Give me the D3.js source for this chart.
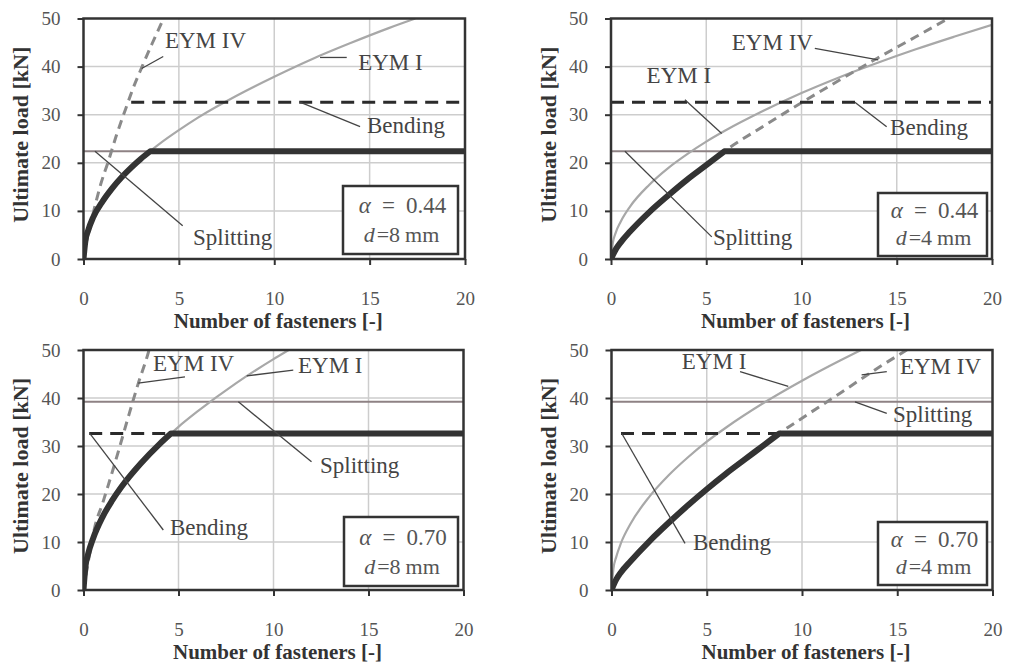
<!DOCTYPE html>
<html>
<head>
<meta charset="utf-8">
<script src="https://cdn.jsdelivr.net/npm/d3@7"></script>
<style>
  body { margin: 0; background: #fff; }
  svg { display: block; }
  text { font-family: "Liberation Serif", "Times New Roman", serif; }
</style>
</head>
<body>
<svg id="chart"></svg>
<script>
const width = 1012;
const height = 665;

const xTicks = [0, 5, 10, 15, 20];
const yTicks = [0, 10, 20, 30, 40, 50];
const xTitle = 'Number of fasteners [-]';
const yTitle = 'Ultimate load [kN]';

// alpha = 0.44, d = 8 mm
const eymI_44_8 = [[0,0],[0.1,3.8],[0.25,6],[0.5,8.6],[1,12],[1.5,14.7],[2,17],[3,20.8],[4,24],[5,26.8],[6,29.4],[8,33.9],[10,37.9],[12,41.6],[14,44.9],[16,48],[17.4,50]];
const eymIV_44_8 = [[0,0],[0.2,4.5],[0.5,9.4],[0.9,15.5],[1.3,20.3],[1.7,25.4],[2.2,31.1],[2.6,35.5],[3.05,39.8],[3.6,44.8],[4.2,50]];
const gov_44_8 = [[0,0],[0.1,3.8],[0.25,6],[0.5,8.6],[1,12],[1.5,14.7],[2,17],[2.5,19],[3,20.8],[3.5,22.4],[20,22.4]];
const split_44_8 = [[0,22.4],[20,22.4]];
const bend_44_8 = [[2.5,32.6],[20,32.6]];

// alpha = 0.44, d = 4 mm
const eymI_44_4 = [[0,0],[0.1,3.4],[0.25,5.5],[0.5,7.7],[1,10.9],[2,15.4],[3,18.9],[4,21.8],[5,24.4],[6,26.7],[8,30.8],[10,34.5],[12,37.8],[14,40.8],[16,43.6],[18,46.2],[20,48.7]];
const eymIV_44_4 = [[0,0],[0.25,2],[0.5,3.4],[1,5.7],[2,9.7],[3,13.2],[4,16.5],[5,19.5],[6,22.55],[8,27.6],[10,32.5],[12,37.2],[14,41.8],[16,46.2],[17.7,50]];
const gov_44_4 = [[0,0],[0.25,2],[0.5,3.4],[1,5.7],[2,9.7],[3,13.2],[4,16.5],[5,19.5],[5.95,22.4],[20,22.4]];
const split_44_4 = [[0,22.4],[20,22.4]];
const bend_44_4 = [[0,32.6],[20,32.6]];

// alpha = 0.70, d = 8 mm
const eymI_70_8 = [[0,0],[0.1,4.8],[0.25,7.6],[0.5,10.7],[1,15.2],[1.5,18.6],[2,21.5],[3,26.3],[4,30.4],[5,34],[6,37.2],[8,43],[10,48.1],[10.8,50]];
const eymIV_70_8 = [[0,0],[0.3,7],[0.6,13.2],[1,18],[1.3,21.8],[1.83,28.8],[2.36,36.1],[2.88,43],[3.4,49.3],[3.45,50]];
const gov_70_8 = [[0,0],[0.1,4.8],[0.25,7.6],[0.5,10.7],[1,15.2],[1.5,18.6],[2,21.5],[3,26.3],[4,30.4],[4.6,32.6],[20,32.6]];
const split_70_8 = [[0,39.2],[20,39.2]];
const bend_70_8 = [[0.3,32.6],[20,32.6]];

// alpha = 0.70, d = 4 mm
const eymI_70_4 = [[0,0],[0.1,4.4],[0.25,6.9],[0.5,9.8],[1,13.8],[2,19.5],[3,23.9],[4,27.6],[5,30.9],[6,33.8],[8,39],[10,43.6],[12,47.8],[13.1,50]];
const eymIV_70_4 = [[0,0],[0.25,2.2],[0.5,3.7],[1,6],[2,10.2],[3,14],[4,17.6],[5,21],[6,24.2],[7,27.2],[8,30.2],[8.8,32.6],[10,35.8],[12,41],[14,46.3],[15.5,50]];
const gov_70_4 = [[0,0],[0.25,2.2],[0.5,3.7],[1,6],[2,10.2],[3,14],[4,17.6],[5,21],[6,24.2],[7,27.2],[8,30.2],[8.8,32.6],[20,32.6]];
const split_70_4 = [[0,39.2],[20,39.2]];
const bend_70_4 = [[0.5,32.6],[20,32.6]];

const panels = [
  { frame: [83.5, 18.5, 465, 259], alpha: '0.44', d: '8', box: [115, 68, 7, 5],
    eymI: eymI_44_8, eymIV: eymIV_44_8, gov: gov_44_8, split: split_44_8, bend: bend_44_8,
    notes: [
      { t: 'EYM IV', at: [4.27, 43.9], leader: [[3.05, 39.6], [4.18, 42.1]] },
      { t: 'EYM I', at: [14.4, 39.3], leader: [[12.4, 41.9], [13.8, 41.9]] },
      { t: 'Bending', at: [14.86, 26.2], leader: [[11.35, 32.6], [14.5, 27.5]] },
      { t: 'Splitting', at: [5.74, 2.9], leader: [[0.6, 22.4], [5.2, 6.9]] }
    ] },
  { frame: [611, 18.5, 992, 259], alpha: '0.44', d: '4', box: [109, 63, 5, 3],
    eymI: eymI_44_4, eymIV: eymIV_44_4, gov: gov_44_4, split: split_44_4, bend: bend_44_4,
    notes: [
      { t: 'EYM IV', at: [6.34, 43.5], leader: [[10.7, 43.8], [14.03, 41.4]] },
      { t: 'EYM I', at: [1.87, 36.65], leader: [[3.88, 33.1], [5.81, 26.1]] },
      { t: 'Bending', at: [14.65, 25.8], leader: [[12.8, 32.6], [14.47, 27.5]] },
      { t: 'Splitting', at: [5.35, 2.9], leader: [[0.73, 22.4], [5.29, 4.6]] }
    ] },
  { frame: [83.5, 350, 463.5, 590], alpha: '0.70', d: '8', box: [114, 69, 5.5, 4],
    eymI: eymI_70_8, eymIV: eymIV_70_8, gov: gov_70_8, split: split_70_8, bend: bend_70_8,
    notes: [
      { t: 'EYM IV', at: [3.66, 45.7], leader: [[2.88, 43.1], [5.34, 44.4]] },
      { t: 'EYM I', at: [11.29, 45.3], leader: [[8.59, 44.6], [11.04, 45.8]] },
      { t: 'Splitting', at: [12.45, 24.4], leader: [[8.15, 39.2], [12.0, 26.7]] },
      { t: 'Bending', at: [4.55, 11.5], leader: [[0.34, 32.6], [4.2, 12.5]] }
    ] },
  { frame: [611.5, 350, 992.5, 590], alpha: '0.70', d: '4', box: [109, 63, 5.5, 5],
    eymI: eymI_70_4, eymIV: eymIV_70_4, gov: gov_70_4, split: split_70_4, bend: bend_70_4,
    notes: [
      { t: 'EYM I', at: [3.69, 46.0], leader: [[6.75, 45.5], [9.28, 42.4]] },
      { t: 'EYM IV', at: [15.14, 44.9], leader: [[13.13, 44.8], [14.45, 45.5]] },
      { t: 'Splitting', at: [14.78, 35.1], leader: [[12.78, 39.2], [14.45, 36.8]] },
      { t: 'Bending', at: [4.28, 8.3], leader: [[0.54, 32.6], [3.86, 9.7]] }
    ] }
];

const svg = d3.select('#chart')
  .attr('width', width)
  .attr('height', height)
  .style('background', '#fff');

panels.forEach((p, i) => {
  const [l, t, r, b] = p.frame;
  const x = d3.scaleLinear().domain([0, 20]).range([l, r]);
  const y = d3.scaleLinear().domain([0, 50]).range([b, t]);
  const g = svg.append('g');

  g.append('clipPath').attr('id', 'clip' + i)
    .append('rect').attr('x', l).attr('y', t).attr('width', r - l).attr('height', b - t);

  // grid
  g.selectAll('.gx').data(xTicks.slice(1, -1)).enter().append('line')
    .attr('x1', d => x(d)).attr('x2', d => x(d)).attr('y1', t).attr('y2', b)
    .attr('stroke', '#cdcdcd').attr('stroke-width', 1.5);
  g.selectAll('.gy').data(yTicks.slice(1, -1)).enter().append('line')
    .attr('y1', d => y(d)).attr('y2', d => y(d)).attr('x1', l).attr('x2', r)
    .attr('stroke', '#cdcdcd').attr('stroke-width', 1.5);

  const smooth = d3.line().x(d => x(d[0])).y(d => y(d[1])).curve(d3.curveMonotoneX);
  const straight = d3.line().x(d => x(d[0])).y(d => y(d[1]));
  const plot = g.append('g').attr('clip-path', `url(#clip${i})`);

  plot.append('path').attr('d', straight(p.split)).attr('fill', 'none')
    .attr('stroke', '#8e8284').attr('stroke-width', 2);
  plot.append('path').attr('d', smooth(p.eymI)).attr('fill', 'none')
    .attr('stroke', '#a8a8a8').attr('stroke-width', 2.2);
  plot.append('path').attr('d', smooth(p.eymIV)).attr('fill', 'none')
    .attr('stroke', '#8a8a8a').attr('stroke-width', 3).attr('stroke-dasharray', '9,6');
  plot.append('path').attr('d', straight(p.bend)).attr('fill', 'none')
    .attr('stroke', '#2b2b2b').attr('stroke-width', 3).attr('stroke-dasharray', '13,8');

  // governing curve: smooth part up to where it meets the plateau, then flat
  const flatY = p.gov[p.gov.length - 1][1];
  const k = p.gov.findIndex(d => d[1] === flatY);
  plot.append('path')
    .attr('d', smooth(p.gov.slice(0, k + 1)) + straight(p.gov.slice(k)).replace(/^M/, 'L'))
    .attr('fill', 'none').attr('stroke', '#333').attr('stroke-width', 6)
    .attr('stroke-linejoin', 'round');

  // frame
  g.append('rect').attr('x', l).attr('y', t).attr('width', r - l).attr('height', b - t)
    .attr('fill', 'none').attr('stroke', '#333').attr('stroke-width', 2.5);

  const xAxis = g.append('g').attr('transform', `translate(0,${b})`)
    .call(d3.axisBottom(x).tickValues(xTicks).tickSize(6).tickFormat(d3.format('d')));
  const yAxis = g.append('g').attr('transform', `translate(${l},0)`)
    .call(d3.axisLeft(y).tickValues(yTicks).tickSize(6).tickFormat(d3.format('d')));
  [xAxis, yAxis].forEach(a => {
    a.select('.domain').remove();
    a.selectAll('line').attr('stroke', '#333').attr('stroke-width', 2);
    a.selectAll('text').attr('font-family', '"Liberation Serif", serif')
      .attr('font-size', 19).attr('fill', '#555');
  });
  xAxis.selectAll('text').attr('y', 46).attr('dy', null);
  yAxis.selectAll('text').attr('x', -23);

  g.append('text')
    .attr('x', (l + r) / 2 + 4).attr('y', b + 69)
    .attr('text-anchor', 'middle').attr('font-weight', 'bold').attr('font-size', 21)
    .attr('fill', '#333').text(xTitle);
  g.append('text')
    .attr('transform', `translate(${l - 63},${(t + b) / 2 - 4}) rotate(-90)`)
    .attr('text-anchor', 'middle').attr('dy', '0.35em').attr('font-weight', 'bold')
    .attr('font-size', 22).attr('fill', '#333').text(yTitle);

  // leaders and labels
  p.notes.forEach(n => {
    g.append('line')
      .attr('x1', x(n.leader[0][0])).attr('y1', y(n.leader[0][1]))
      .attr('x2', x(n.leader[1][0])).attr('y2', y(n.leader[1][1]))
      .attr('stroke', '#444').attr('stroke-width', 1.3);
    g.append('text').attr('x', x(n.at[0])).attr('y', y(n.at[1]))
      .attr('font-size', 23).attr('fill', '#444').text(n.t);
  });

  // parameter box
  const [bw, bh, bdx, bdy] = p.box;
  const bx = r - bdx - bw;
  const by = b - bdy - bh;
  g.append('rect').attr('x', bx).attr('y', by).attr('width', bw).attr('height', bh)
    .attr('fill', '#fff').attr('stroke', '#333').attr('stroke-width', 2.5);
  const l1 = g.append('text').attr('x', bx + bw / 2 + 2).attr('y', by + bh * 0.4)
    .attr('text-anchor', 'middle').attr('font-size', 23).attr('fill', '#555');
  l1.append('tspan').attr('font-style', 'italic').text('\u03b1');
  l1.append('tspan').attr('dx', 11).text('=');
  l1.append('tspan').attr('dx', 11).text(p.alpha);
  const l2 = g.append('text').attr('x', bx + bw / 2 + 1).attr('y', by + bh * 0.83)
    .attr('text-anchor', 'middle').attr('font-size', 22).attr('fill', '#555');
  l2.append('tspan').attr('font-style', 'italic').text('d');
  l2.append('tspan').attr('dx', 2).text('=' + p.d);
  l2.append('tspan').attr('dx', 5).text('mm');
});
</script>
</body>
</html>
